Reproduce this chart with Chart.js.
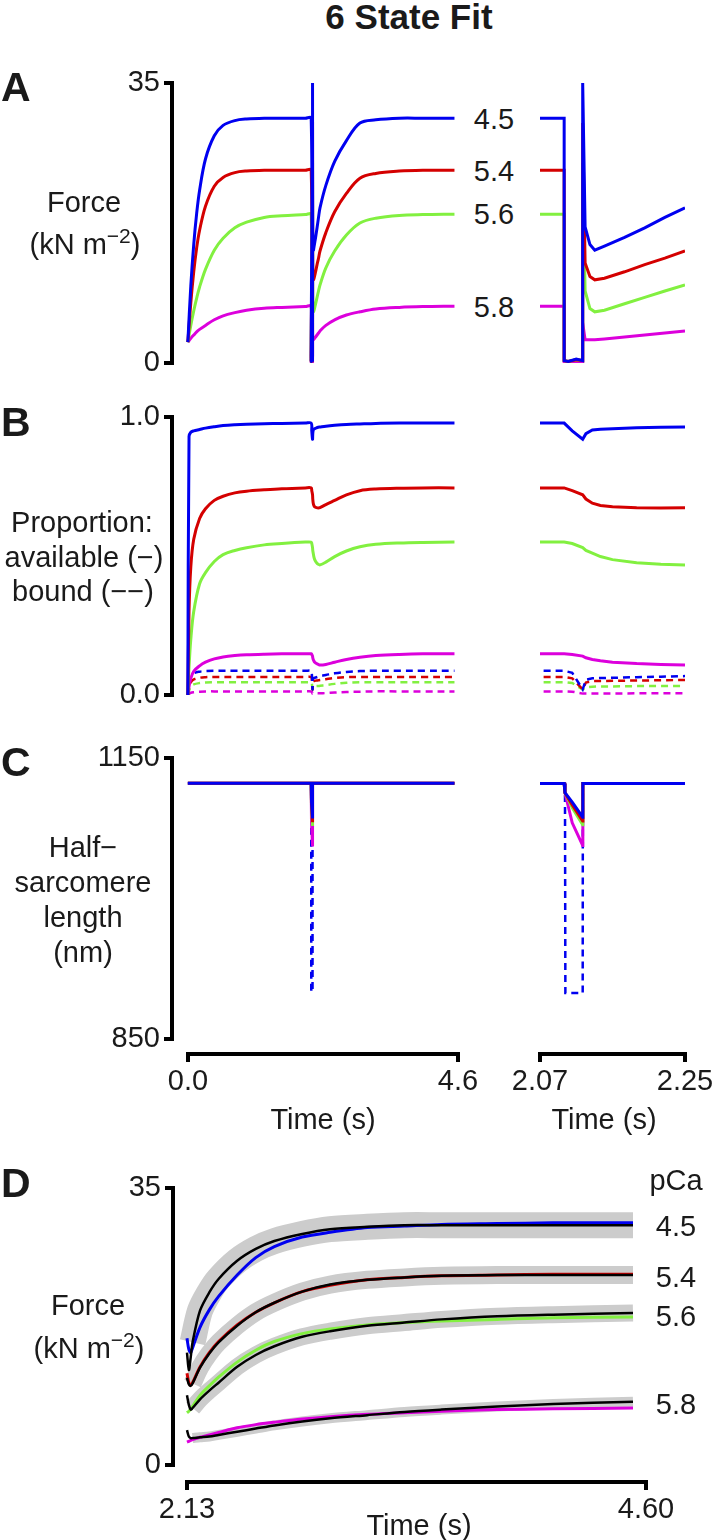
<!DOCTYPE html>
<html>
<head>
<meta charset="utf-8">
<script src="https://cdn.jsdelivr.net/npm/chart.js@4.4.1/dist/chart.umd.min.js"></script>
<style>
  body { margin: 0; width: 714px; height: 1540px; position: relative; overflow: hidden; background: #fff;
         font-family: "Liberation Sans", Arial, Helvetica, sans-serif; color: #1a1a1a; }
  canvas { position: absolute; }
  .t { position: absolute; white-space: nowrap; }
  .sup { font-size: 21px; position: relative; top: -11px; }
</style>
</head>
<body>
<script>
//-------------------------------------------------------------------------------------------------------
// 6 state fit: force, proportions, half-sarcomere length, data vs model
//-------------------------------------------------------------------------------------------------------
const pCaLabels = ['4.5', '5.4', '5.6', '5.8'];

// A: force (kN m-2), same run plotted full-length (left) and zoomed (right)
const tA = [0, 0.05, 0.1, 0.15, 0.2, 0.3, 0.45, 0.6, 0.8, 1.0, 1.3, 1.6, 2.0, 2.1, 2.1, 2.105, 2.115, 2.123, 2.123,
            2.126, 2.132, 2.138, 2.15, 2.175, 2.2, 2.225, 2.25, 2.35, 2.5, 2.7, 2.93, 3.2, 3.6, 4.0, 4.54];
const forceA_45 = [2.6, 9.6, 14.8, 18.7, 21.6, 25.5, 28.4, 29.7, 30.3, 30.5, 30.6, 30.6, 30.6, 30.6, 0.3, 0.2, 0.5, 0.3, 35,
                   17, 14.8, 14.1, 14.6, 15.7, 16.9, 18.2, 19.4, 22.2, 25.2, 27.8, 30.0, 30.4, 30.6, 30.6, 30.6];
const forceA_54 = [2.6, 7.5, 11.4, 14.4, 16.6, 19.6, 22.1, 23.2, 23.8, 24.0, 24.1, 24.1, 24.1, 24.1, 0.3, 0.2, 0.4, 0.3, 30,
                   12.5, 10.8, 10.4, 10.6, 11.4, 12.3, 13.1, 14.0, 16.3, 18.9, 21.2, 23.1, 23.7, 24.0, 24.1, 24.1];
const forceA_56 = [2.6, 4.7, 6.5, 8.1, 9.5, 11.7, 14.1, 15.6, 16.9, 17.6, 18.2, 18.4, 18.55, 18.6, 0.3, 0.2, 0.4, 0.3, 25,
                   9.0, 6.8, 6.4, 6.6, 7.4, 8.2, 9.0, 9.75, 11.9, 14.0, 16.0, 17.5, 18.1, 18.45, 18.55, 18.6];
const forceA_58 = [2.6, 3.1, 3.5, 3.9, 4.2, 4.7, 5.4, 5.9, 6.3, 6.6, 6.85, 6.95, 7.05, 7.1, 0.1, 0.1, 0.1, 0.1, 5.0,
                   2.9, 2.9, 2.9, 3.0, 3.25, 3.5, 3.75, 4.0, 4.7, 5.4, 6.0, 6.4, 6.75, 6.95, 7.05, 7.1];

// B: proportion available (solid) and bound (dashed)
const tB = [0, 0.02, 0.05, 0.1, 0.2, 0.3, 0.45, 0.6, 0.8, 1.0, 1.3, 1.6, 2.0, 2.1, 2.11, 2.123, 2.127, 2.135, 2.145,
            2.16, 2.19, 2.22, 2.25, 2.35, 2.5, 2.7, 2.93, 3.2, 3.6, 4.0, 4.54];
const availB_45 = [0.0, 0.93, 0.945, 0.95, 0.955, 0.96, 0.965, 0.969, 0.972, 0.974, 0.976, 0.977, 0.978, 0.978, 0.95, 0.92,
                   0.94, 0.953, 0.956, 0.958, 0.961, 0.963, 0.964, 0.967, 0.97, 0.973, 0.975, 0.977, 0.978, 0.978, 0.978];
const availB_54 = [0.0, 0.3, 0.46, 0.56, 0.635, 0.67, 0.70, 0.715, 0.727, 0.733, 0.738, 0.742, 0.745, 0.745, 0.735, 0.72,
                   0.705, 0.69, 0.682, 0.677, 0.674, 0.673, 0.674, 0.685, 0.70, 0.72, 0.735, 0.741, 0.744, 0.745, 0.745];
const availB_56 = [0.0, 0.1, 0.2, 0.3, 0.4, 0.44, 0.48, 0.505, 0.52, 0.53, 0.54, 0.545, 0.55, 0.55, 0.545, 0.53,
                   0.52, 0.51, 0.498, 0.487, 0.476, 0.47, 0.468, 0.478, 0.498, 0.518, 0.533, 0.542, 0.547, 0.549, 0.55];
const availB_58 = [0.0, 0.03, 0.06, 0.085, 0.105, 0.118, 0.13, 0.137, 0.142, 0.145, 0.147, 0.148, 0.148, 0.148, 0.146, 0.14,
                   0.134, 0.128, 0.123, 0.118, 0.113, 0.11, 0.108, 0.11, 0.118, 0.128, 0.136, 0.142, 0.146, 0.148, 0.148];
const boundB_45 = [0.0, 0.04, 0.065, 0.078, 0.084, 0.086, 0.087, 0.087, 0.087, 0.087, 0.087, 0.087, 0.087, 0.087, 0.08, 0.02,
                   0.055, 0.06, 0.061, 0.062, 0.064, 0.066, 0.068, 0.072, 0.078, 0.083, 0.086, 0.087, 0.087, 0.087, 0.087];
const boundB_54 = [0.0, 0.025, 0.045, 0.056, 0.062, 0.064, 0.065, 0.065, 0.065, 0.065, 0.065, 0.065, 0.065, 0.065, 0.06, 0.02,
                   0.045, 0.05, 0.05, 0.051, 0.052, 0.053, 0.054, 0.057, 0.061, 0.064, 0.065, 0.065, 0.065, 0.065, 0.065];
const boundB_56 = [0.0, 0.015, 0.03, 0.038, 0.043, 0.045, 0.046, 0.046, 0.046, 0.046, 0.046, 0.046, 0.046, 0.046, 0.043, 0.02,
                   0.028, 0.03, 0.031, 0.031, 0.032, 0.032, 0.033, 0.036, 0.04, 0.044, 0.046, 0.046, 0.046, 0.046, 0.046];
const boundB_58 = [0.0, 0.004, 0.008, 0.01, 0.012, 0.013, 0.013, 0.013, 0.013, 0.013, 0.013, 0.013, 0.013, 0.013, 0.012, 0.005,
                   0.005, 0.005, 0.005, 0.005, 0.006, 0.006, 0.006, 0.007, 0.009, 0.011, 0.012, 0.013, 0.013, 0.013, 0.013];

// C: half-sarcomere length (nm)
const tC = [0, 2.1, 2.101, 2.11, 2.123, 2.1232, 4.54];
const hslC_45 = [1123, 1123, 1113, 1103, 1087, 1123, 1123];
const hslC_54 = [1123, 1123, 1113, 1100, 1083, 1123, 1123];
const hslC_56 = [1123, 1123, 1113, 1097, 1079, 1123, 1123];
const hslC_58 = [1123, 1123, 1113, 1081, 1057, 1123, 1123];
const tC_dash = [0, 2.101, 2.1015, 2.123, 2.1232, 4.54];
const lenC_dash = [1123, 1123, 900, 900, 1123, 1123];

// D: force recovery, model (colour) vs data (black, grey band)
const tD = [2.13, 2.14, 2.15, 2.16, 2.2, 2.25, 2.3, 2.4, 2.5, 2.6, 2.75, 2.9, 3.1, 3.3, 3.5, 3.8, 4.1, 4.53];
const modelD_45 = [16.0, 14.6, 14.2, 14.8, 17.4, 19.6, 21.3, 24.0, 26.2, 27.6, 28.8, 29.4, 30.0, 30.2, 30.4, 30.5, 30.6, 30.6];
const dataD_45  = [14.2, 12.0, 13.6, 15.5, 19.5, 21.8, 23.5, 25.8, 27.3, 28.3, 29.2, 29.8, 30.1, 30.3, 30.3, 30.3, 30.3, 30.3];
const modelD_54 = [11.6, 10.4, 10.1, 10.4, 12.4, 14.2, 15.6, 17.7, 19.3, 20.5, 21.9, 22.7, 23.4, 23.7, 23.9, 24.0, 24.1, 24.1];
const dataD_54  = [11.0, 10.2, 10.0, 10.3, 12.3, 14.1, 15.5, 17.6, 19.3, 20.5, 21.9, 22.8, 23.4, 23.7, 23.9, 24.0, 24.0, 24.0];
const modelD_56 = [6.6, 6.8, 7.1, 7.4, 8.8, 10.0, 11.1, 13.0, 14.5, 15.6, 16.6, 17.2, 17.7, 18.0, 18.2, 18.4, 18.6, 18.7];
const dataD_56  = [8.8, 7.6, 7.0, 7.2, 8.3, 9.4, 10.4, 12.4, 13.9, 15.0, 16.2, 16.9, 17.6, 18.0, 18.4, 18.8, 19.0, 19.2];
const modelD_58 = [2.9, 3.0, 3.1, 3.2, 3.5, 3.8, 4.1, 4.7, 5.1, 5.4, 5.8, 6.1, 6.4, 6.6, 6.8, 7.0, 7.1, 7.2];
const dataD_58  = [4.4, 3.6, 3.4, 3.4, 3.5, 3.6, 3.8, 4.2, 4.6, 5.0, 5.5, 5.9, 6.3, 6.7, 7.0, 7.4, 7.7, 8.0];

const BLUE = '#0000f0', RED = '#d40000', GREEN = '#82f040', MAGENTA = '#dc00dc';

Chart.defaults.font.family = '"Liberation Sans", Arial, Helvetica, sans-serif';
Chart.defaults.font.size = 29;
Chart.defaults.color = '#1a1a1a';

/*------------------------------------------------------*/
// helpers
/*------------------------------------------------------*/
function trace(t, v, color, width, dash) {
    return {
        data: t.map((x, i) => ({x: x, y: v[i]})),
        borderColor: color,
        borderWidth: width || 3,
        borderDash: dash || [],
        pointRadius: 0,
        fill: false
    };
}

const hidden = (min, max) => ({type: 'linear', min: min, max: max, display: false});

function bracketY(min, max, dec, width) {
    return {
        type: 'linear', min: min, max: max,
        afterFit: s => { s.width = width; },
        afterBuildTicks: s => { s.ticks = [{value: min}, {value: max}]; },
        ticks: {callback: v => Number(v).toFixed(dec), padding: 4, autoSkip: false},
        grid: {drawOnChartArea: false, drawTicks: true, tickLength: 8, lineWidth: 4, color: '#000'},
        border: {display: true, width: 4, color: '#000'}
    };
}

function bracketX(min, max, dec) {
    return {
        type: 'linear', min: min, max: max, position: 'bottom',
        afterFit: s => { s.height = 60; },
        afterBuildTicks: s => { s.ticks = [{value: min}, {value: max}]; },
        ticks: {callback: v => Number(v).toFixed(dec), padding: 3, maxRotation: 0, autoSkip: false},
        grid: {drawOnChartArea: false, drawTicks: true, tickLength: 8, lineWidth: 4, color: '#000'},
        border: {display: true, width: 4, color: '#000'}
    };
}

// tension: smooth curves on the full-length plots, straight segments on the zoomed ones
function makeChart(box, pad, xScale, yScale, datasets, tension) {
    const c = document.createElement('canvas');
    c.width = box[2];
    c.height = box[3];
    c.style.left = box[0] + 'px';
    c.style.top = box[1] + 'px';
    c.style.width = box[2] + 'px';
    c.style.height = box[3] + 'px';
    document.body.appendChild(c);
    return new Chart(c, {
        type: 'line',
        data: {datasets: datasets},
        options: {
            responsive: false,
            animation: false,
            devicePixelRatio: 1,
            events: [],
            layout: {padding: pad},
            elements: {line: {tension: tension || 0}},
            plugins: {legend: {display: false}, tooltip: {enabled: false}},
            scales: {x: xScale, y: yScale}
        }
    });
}

function text(html, cx, cy, size, weight, left) {
    const d = document.createElement('div');
    d.className = 't';
    d.innerHTML = html;
    d.style.fontSize = size + 'px';
    d.style.lineHeight = size + 'px';
    d.style.fontWeight = weight || 'normal';
    d.style.top = (cy - 0.49 * size) + 'px';
    d.style.left = cx + 'px';
    if (!left) d.style.transform = 'translateX(-50%)';
    document.body.appendChild(d);
}

/*------------------------------------------------------*/
// datasets (fresh objects for every chart)
/*------------------------------------------------------*/
const dsA = () => [
    trace(tA, forceA_45, BLUE), trace(tA, forceA_54, RED),
    trace(tA, forceA_56, GREEN), trace(tA, forceA_58, MAGENTA)
];
const dsB = () => [
    trace(tB, availB_45, BLUE), trace(tB, availB_54, RED),
    trace(tB, availB_56, GREEN), trace(tB, availB_58, MAGENTA),
    trace(tB, boundB_45, BLUE, 2.5, [7, 5]), trace(tB, boundB_54, RED, 2.5, [7, 5]),
    trace(tB, boundB_56, GREEN, 2.5, [7, 5]), trace(tB, boundB_58, MAGENTA, 2.5, [7, 5])
];
const dsC = () => [
    trace(tC, hslC_45, BLUE), trace(tC, hslC_54, RED),
    trace(tC, hslC_56, GREEN), trace(tC, hslC_58, MAGENTA),
    trace(tC_dash, lenC_dash, BLUE, 2.5, [7, 5])
];
const dsD = () => [
    trace(tD, dataD_45, '#000', 2.5), trace(tD, dataD_54, '#000', 2.5),
    trace(tD, dataD_56, '#000', 2.5), trace(tD, dataD_58, '#000', 2.5),
    trace(tD, modelD_45, BLUE), trace(tD, modelD_54, RED),
    trace(tD, modelD_56, GREEN), trace(tD, modelD_58, MAGENTA),
    trace(tD.slice(3), dataD_45.slice(3), '#cccccc', 26),
    trace(tD.slice(3), dataD_54.slice(3), '#cccccc', 18),
    trace(tD.slice(3), dataD_56.slice(3), '#cccccc', 17),
    trace(tD.slice(3), dataD_58.slice(3), '#cccccc', 10)
];

/*------------------------------------------------------*/
// charts
/*------------------------------------------------------*/
makeChart([0, 50, 470, 340], {left: 0, right: 12, top: 33, bottom: 27}, hidden(-0.27, 4.6), bracketY(0, 35, 0, 172), dsA(), 0.35);
makeChart([520, 50, 194, 340], {left: 20, right: 29, top: 33, bottom: 27}, hidden(2.07, 2.25), hidden(0, 35), dsA());

makeChart([0, 390, 470, 330], {left: 0, right: 12, top: 27, bottom: 25}, hidden(-0.27, 4.6), bracketY(0, 1, 1, 172), dsB(), 0.35);
makeChart([520, 390, 194, 330], {left: 20, right: 29, top: 27, bottom: 25}, hidden(2.07, 2.25), hidden(0, 1), dsB());

makeChart([0, 730, 470, 330], {left: 0, right: 12, top: 28, bottom: 20}, hidden(-0.27, 4.6), bracketY(850, 1150, 0, 172), dsC());
makeChart([520, 730, 194, 330], {left: 20, right: 29, top: 28, bottom: 20}, hidden(2.07, 2.25), hidden(850, 1150), dsC());

makeChart([140, 1014, 360, 100], {left: 48, right: 42, top: 0, bottom: 0}, bracketX(0, 4.6, 1), hidden(0, 1), []);
makeChart([490, 1014, 230, 100], {left: 50, right: 35, top: 0, bottom: 0}, bracketX(2.07, 2.25, 2), hidden(0, 1), []);

makeChart([0, 1160, 700, 330], {left: 0, right: 54, top: 28, bottom: 25}, hidden(2.0547, 4.6), bracketY(0, 35, 0, 173), dsD(), 0.3);
makeChart([140, 1442, 560, 100], {left: 47, right: 54, top: 0, bottom: 0}, bracketX(2.13, 4.6, 2), hidden(0, 1), []);

/*------------------------------------------------------*/
// text
/*------------------------------------------------------*/
text('6 State Fit', 409, 16, 35, 'bold');
text('A', 1, 87, 41, 'bold', true);
text('B', 1, 422, 41, 'bold', true);
text('C', 1, 762, 41, 'bold', true);
text('D', 1, 1183, 41, 'bold', true);

text('Force', 84, 202, 29);
text('(kN m<span class="sup">\u22122</span>)', 85, 244, 29);
text('Proportion:', 82, 522, 29);
text('available (\u2212)', 84, 557, 29);
text('bound (\u2212\u2212)', 83, 591, 29);
text('Half\u2212', 83, 847, 29);
text('sarcomere', 83, 882, 29);
text('length', 83, 917, 29);
text('(nm)', 83, 952, 29);
text('Force', 88, 1305, 29);
text('(kN m<span class="sup">\u22122</span>)', 89, 1348, 29);

text('Time (s)', 323, 1119, 29);
text('Time (s)', 604, 1119, 29);
text('Time (s)', 419, 1525, 29);

const yLabA = [119, 171, 214, 307];
const yLabD = [1226, 1277, 1316, 1404];
pCaLabels.forEach((s, i) => text(s, 494, yLabA[i], 29));
text('pCa', 676, 1180, 29);
pCaLabels.forEach((s, i) => text(s, 676, yLabD[i], 29));
</script>
</body>
</html>
